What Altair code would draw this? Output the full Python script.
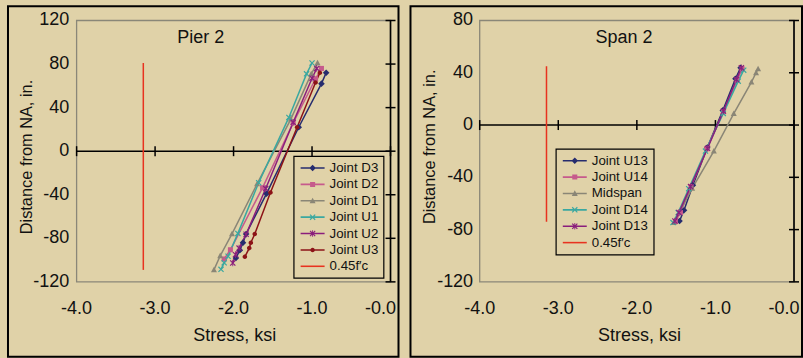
import altair as alt
import pandas as pd

FONT = "Liberation Sans"
BG = "#e0d2a8"
NAVY = "#262c6e"
PINK = "#c65a8c"
GRAY = "#8a8676"
TEAL = "#3aa8a0"
PURPLE = "#8a1e7c"
DARKRED = "#8c1317"
RED = "#e8321f"
FRAME = "#8a8778"
INK = "#111111"

# ---------------- Pier 2 ----------------
pier_names = ["Joint D3", "Joint D2", "Joint D1", "Joint U1", "Joint U2", "Joint U3"]
pier_colors = [NAVY, PINK, GRAY, TEAL, PURPLE, DARKRED]
d3_stress = [-0.82, -0.88, -1.17, -1.58, -1.84, -1.88, -1.92, -1.97]
d3_dist = [72, 62, 22, -39, -76, -84, -91, -98]
d2_stress = [-0.88, -0.955, -1.24, -1.63, -2.04, -2.12]
d2_dist = [76, 66.5, 26, -33.5, -90.5, -99]
d1_stress = [-0.93, -1.01, -1.27, -1.70, -2.02, -2.17, -2.25]
d1_dist = [81, 71, 29.5, -30, -76, -96, -109]
u1_stress = [-1.0, -1.07, -1.295, -1.68, -1.945, -2.07, -2.12, -2.16]
u1_dist = [81, 71, 31, -29, -75.5, -96.5, -102.5, -108.5]
u2_stress = [-0.94, -1.0, -1.24, -1.59, -1.84, -1.93, -1.975, -2.01]
u2_dist = [76, 67, 26.5, -34.3, -76.3, -89, -95, -102.7]
u3_stress = [-0.90, -0.955, -1.19, -1.53, -1.73, -1.78, -1.80, -1.856]
u3_dist = [72, 63, 22, -38, -76, -84, -89, -97]
pier_limit_stress = [-3.15]
pier_limit_top = [81]
pier_limit_bottom = [-109]
pier_y_ticks = [-120, -80, -40, 0, 40, 80, 120]
pier_y_labels = ["-120", "-80", "-40", "0", "40", "80", "120"]

# ---------------- Span 2 ----------------
span_names = ["Joint U13", "Joint U14", "Midspan", "Joint D14", "Joint D13"]
span_colors = [NAVY, PINK, GRAY, TEAL, PURPLE]
u13_stress = [-0.68, -0.745, -0.906, -1.105, -1.287, -1.40, -1.457]
u13_dist = [43.8, 35.4, 11.2, -17.3, -46.1, -65.2, -73.4]
u14_stress = [-0.66, -0.724, -0.898, -1.11, -1.31, -1.445, -1.51]
u14_dist = [43, 34.4, 10.2, -18.1, -47.1, -67, -73.9]
mid_stress = [-0.457, -0.483, -0.542, -0.767, -1.02, -1.296, -1.53]
mid_dist = [43, 40, 32.9, 8.7, -19.9, -48.4, -74.6]
d14_stress = [-0.64, -0.71, -0.90, -1.127, -1.34, -1.474, -1.54]
d14_dist = [42, 33.6, 8.9, -19.9, -48.7, -67, -74.6]
d13_stress = [-0.67, -0.733, -0.898, -1.10, -1.317, -1.465, -1.516]
d13_dist = [43.8, 34.9, 10.7, -17.8, -47.1, -67, -73.4]
span_limit_stress = [-3.15]
span_limit_top = [45]
span_limit_bottom = [-74]
span_y_ticks = [-120, -80, -40, 0, 40, 80]
span_y_labels = ["-120", "-80", "-40", "0", "40", "80"]

x_ticks = [-4, -3, -2, -1, 0]
x_labels = ["-4.0", "-3.0", "-2.0", "-1.0", "-0.0"]
limit_label = "0.45f\u2032c"
x_title = "Stress, ksi"
y_title = "Distance from NA, in."

# marker shapes (custom paths, unit square -1..1)
DIAMOND = "M0,-0.55L0.55,0L0,0.55L-0.55,0Z"
SQUARE = "M-0.42,-0.42H0.42V0.42H-0.42Z"
TRIANGLE = "M0,-0.52L0.5,0.4H-0.5Z"
XMARK = "M-0.5,-0.36L-0.36,-0.5L0.5,0.36L0.36,0.5Z M-0.5,0.36L0.36,-0.5L0.5,-0.36L-0.36,0.5Z"
STAR = XMARK + " M-0.07,-0.55H0.07V0.55H-0.07Z"
DOT = "M-0.38,0A0.38,0.38 0 1,1 0.38,0A0.38,0.38 0 1,1 -0.38,0Z"
LINE = "M-2,-0.13H2V0.13H-2Z"

pier_markers = [DIAMOND, SQUARE, TRIANGLE, XMARK, STAR, DOT]
span_markers = [DIAMOND, SQUARE, TRIANGLE, XMARK, STAR]

FS = 18


def build_panel(names, colors, markers, stress_lists, dist_lists, y_min, y_max, y_ticks, y_labels,
                x_range, y_range, lim_x, lim_top, lim_bot, title, title_xy,
                legend_xy, y_label_edge, ytitle_xy, xtitle_xy, width, height):
    rows = []
    for s, xs, ys in zip(names, stress_lists, dist_lists):
        for i, (a, b) in enumerate(zip(xs, ys)):
            rows.append({"series": s, "stress": a, "dist": b, "i": i})
    df = pd.DataFrame(rows)

    xsc = alt.Scale(domain=[-4, 0], range=x_range, nice=False, zero=False)
    ysc = alt.Scale(domain=[y_min, y_max], range=y_range, nice=False, zero=False)
    col = alt.Scale(domain=names, range=colors)

    one = alt.Chart(pd.DataFrame({"k": [0]}))

    frame = one.mark_rect(fill="transparent", stroke=FRAME, strokeWidth=1.3).encode(
        x=alt.XDatum(-4, scale=xsc, axis=None), x2=alt.datum(0),
        y=alt.YDatum(y_min, scale=ysc, axis=None), y2=alt.datum(y_max),
    )
    zero_line = one.mark_rule(color="black", strokeWidth=1.6).encode(
        x=alt.XDatum(-4, scale=xsc, axis=None), x2=alt.datum(0),
        y=alt.YDatum(0, scale=ysc, axis=None),
    )
    vert_axis = one.mark_rule(color="black", strokeWidth=1.6).encode(
        x=alt.XDatum(0, scale=xsc, axis=None),
        y=alt.YDatum(y_min, scale=ysc, axis=None), y2=alt.datum(y_max),
    )
    xdf = pd.DataFrame({"v": x_ticks, "lab": x_labels})
    ydf = pd.DataFrame({"v": y_ticks, "lab": y_labels})
    xt = alt.Chart(xdf).mark_tick(
        orient="vertical", size=10, thickness=1.5, color="black", opacity=1).encode(
        x=alt.X("v:Q", scale=xsc, axis=None),
        y=alt.YDatum(0, scale=ysc, axis=None),
    )
    yt = alt.Chart(ydf).mark_tick(
        orient="horizontal", size=10, thickness=1.5, color="black", opacity=1).encode(
        y=alt.Y("v:Q", scale=ysc, axis=None),
        x=alt.XDatum(0, scale=xsc, axis=None),
    )
    # tick labels (positioned through the scales)
    xlab = alt.Chart(xdf).transform_filter("datum.v < 0").mark_text(
        fontSize=FS, color=INK, align="center", baseline="top").encode(
        x=alt.X("v:Q", scale=xsc, axis=None), y=alt.value(294), text="lab:N")
    xlab0 = alt.Chart(xdf).transform_filter("datum.v == 0").mark_text(
        fontSize=FS, color=INK, align="center", baseline="top", dx=-10).encode(
        x=alt.X("v:Q", scale=xsc, axis=None), y=alt.value(294), text="lab:N")
    ylab = alt.Chart(ydf).mark_text(
        fontSize=FS, color=INK, align="right", baseline="middle").encode(
        y=alt.Y("v:Q", scale=ysc, axis=None), x=alt.value(y_label_edge), text="lab:N")
    xtit = one.mark_text(fontSize=FS, color=INK, align="center", baseline="middle").encode(
        text=alt.value(x_title), x=alt.value(xtitle_xy[0]), y=alt.value(xtitle_xy[1]))
    ytit = one.mark_text(fontSize=16.4, color=INK, align="center", baseline="middle", angle=270).encode(
        text=alt.value(y_title), x=alt.value(ytitle_xy[0]), y=alt.value(ytitle_xy[1]))

    limit = alt.Chart(pd.DataFrame({"x": lim_x, "top": lim_top, "bot": lim_bot})).mark_rule(
        color=RED, strokeWidth=1.5).encode(
        x=alt.X("x:Q", scale=xsc, axis=None),
        y=alt.Y("bot:Q", scale=ysc, axis=None), y2="top:Q",
    )
    lines = alt.Chart(df).mark_line(strokeWidth=1.5).encode(
        x=alt.X("stress:Q", scale=xsc, axis=None),
        y=alt.Y("dist:Q", scale=ysc, axis=None),
        color=alt.Color("series:N", scale=col, legend=None),
        order="i:Q",
    )
    points = alt.Chart(df).mark_point(filled=True, opacity=1, size=144).encode(
        x=alt.X("stress:Q", scale=xsc, axis=None),
        y=alt.Y("dist:Q", scale=ysc, axis=None),
        color=alt.Color("series:N", scale=col, legend=None),
        shape=alt.Shape("series:N", scale=alt.Scale(domain=names, range=markers), legend=None),
    )
    label = one.mark_text(fontSize=FS, color=INK, baseline="middle", align="center").encode(
        text=alt.value(title), x=alt.value(title_xy[0]), y=alt.value(title_xy[1]),
    )

    leg_names = names + [limit_label]
    leg_colors = colors + [RED]
    leg_shapes = [LINE + " " + m for m in markers] + [LINE]
    leg = alt.Legend(
        orient="none", legendX=legend_xy[0], legendY=legend_xy[1], title=None,
        strokeColor="black", padding=5, symbolSize=144, symbolOffset=7, labelOffset=10,
        labelFontSize=13.3, labelColor=INK, rowPadding=2.4,
    )
    legend_layer = alt.Chart(pd.DataFrame({"series": leg_names})).transform_filter("false").mark_point(
        filled=True, opacity=1, size=144).encode(
        fill=alt.Fill("series:N", scale=alt.Scale(domain=leg_names, range=leg_colors), legend=leg),
        shape=alt.Shape("series:N", scale=alt.Scale(domain=leg_names, range=leg_shapes), legend=leg),
    )

    return alt.layer(
        frame, zero_line, vert_axis, xt, yt, xlab, xlab0, ylab, xtit, ytit,
        limit, lines, points, label, legend_layer
    ).resolve_scale(shape="independent", fill="independent").properties(width=width, height=height)


left = build_panel(
    pier_names, pier_colors, pier_markers,
    [d3_stress, d2_stress, d1_stress, u1_stress, u2_stress, u3_stress],
    [d3_dist, d2_dist, d1_dist, u1_dist, u2_dist, u3_dist],
    -120, 120, pier_y_ticks, pier_y_labels,
    [68.7, 383], [276, 14.3],
    pier_limit_stress, pier_limit_top, pier_limit_bottom,
    "Pier 2", (193, 31.5), (286, 150), 61.3, (19.5, 151), (227, 330), 391, 351,
)
right = build_panel(
    span_names, span_colors, span_markers,
    [u13_stress, u14_stress, mid_stress, d14_stress, d13_stress],
    [u13_dist, u14_dist, mid_dist, d14_dist, d13_dist],
    -120, 80, span_y_ticks, span_y_labels,
    [69.3, 384], [276, 14.3],
    span_limit_stress, span_limit_top, span_limit_bottom,
    "Span 2", (213.7, 31.5), (145.5, 142.7), 62.7, (19.2, 140.8), (229.3, 330), 392, 351,
)

chart = alt.hconcat(left, right, spacing=10).resolve_scale(
    x="independent", y="independent", color="independent", fill="independent", shape="independent"
).properties(
    background=BG, padding={"left": 7, "top": 5, "right": 0, "bottom": 0}
).configure(font=FONT).configure_view(
    stroke="black", strokeWidth=2, fill=None
).configure_legend(strokeWidth=1.2)

chart.save("out.html", embed_options={"renderer": "svg", "actions": False})
